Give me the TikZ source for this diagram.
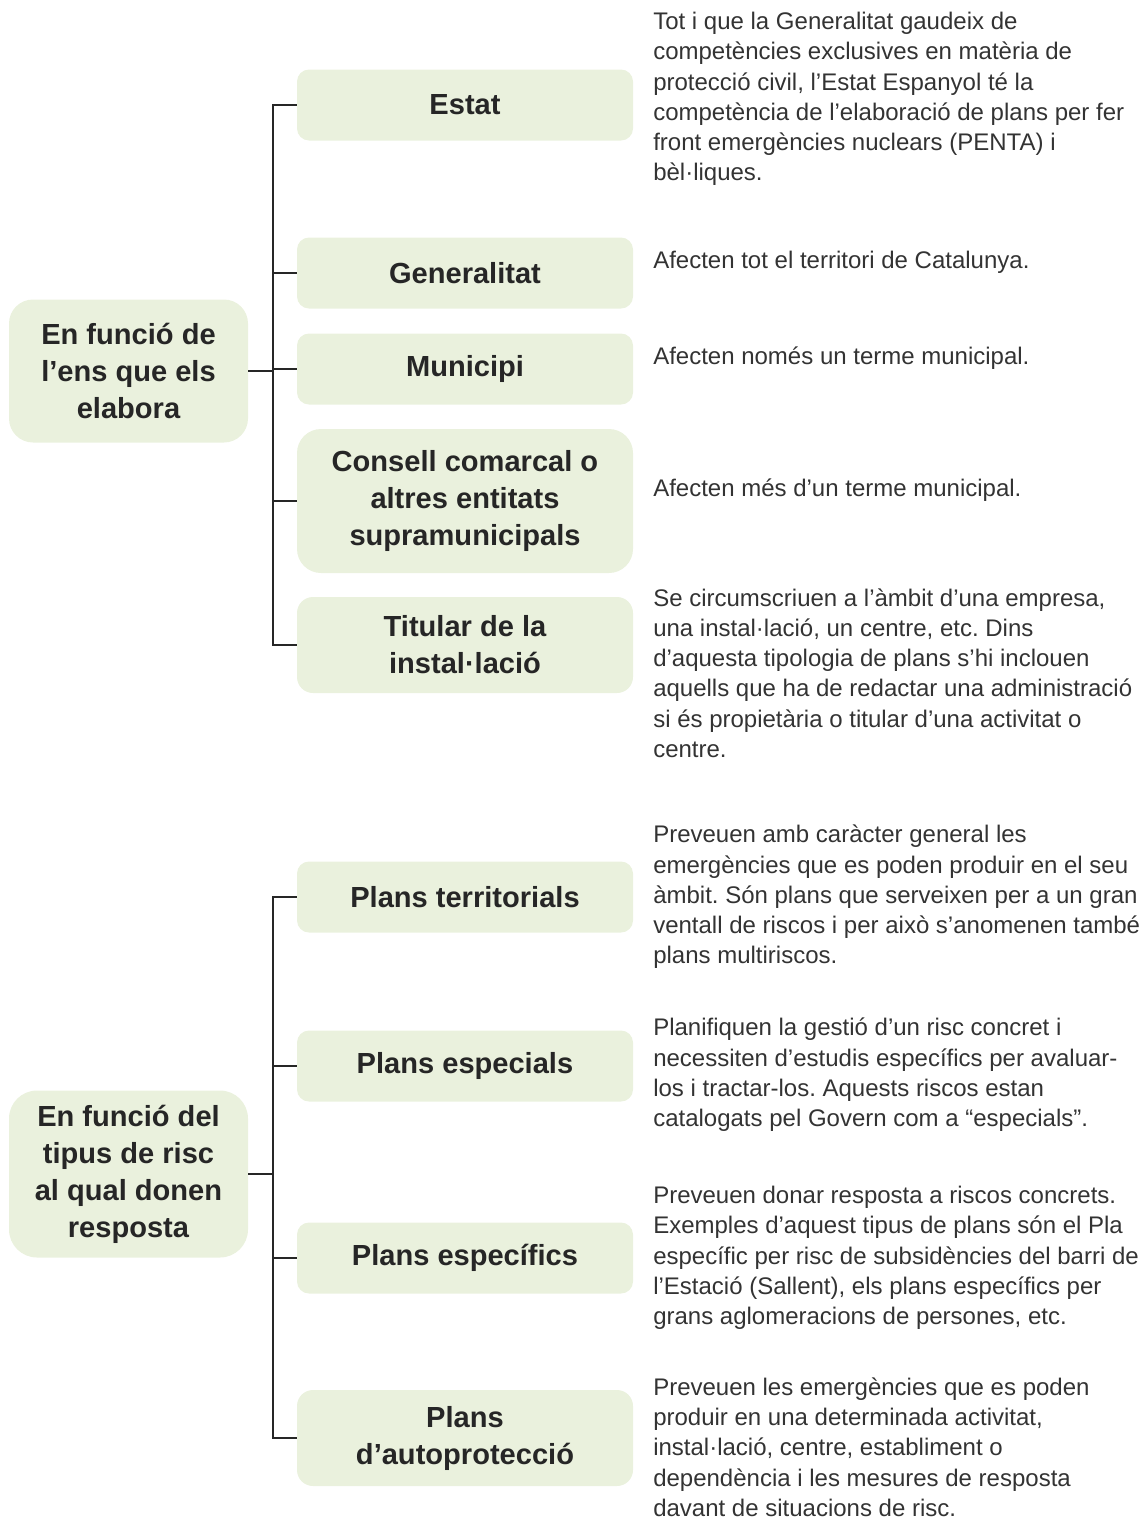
\documentclass[tikz,border=0pt]{standalone}
\usepackage{fontspec}
\setmainfont{Liberation Sans}
\frenchspacing
\usetikzlibrary{positioning}

\definecolor{boxgreen}{HTML}{EAF1DD}
\definecolor{ink}{HTML}{262626}
\definecolor{bodyink}{HTML}{333333}

\tikzset{
  group/.style={fill=boxgreen, text=ink, align=center, inner sep=0pt,
    minimum width=179.25pt, font=\bfseries\fontsize{21.8}{27.7}\selectfont},
  kind/.style={fill=boxgreen, text=ink, align=center, inner sep=0pt,
    minimum width=252pt, minimum height=53.25pt, rounded corners=9pt,
    font=\bfseries\fontsize{21.8}{27.7}\selectfont},
  note/.style={anchor=west, align=left, inner sep=0pt, text=bodyink,
    font=\fontsize{18}{22.7}\selectfont},
  link/.style={draw=ink, line width=1.5pt}
}

\begin{document}
\begin{tikzpicture}[x=0.75pt, y=-0.75pt]
    \useasboundingbox (0,0) rectangle (1143,1521);

    % qui elabora el pla
    \node[group, minimum height=107.25pt, rounded corners=18pt] (ens) at (128.5,371)
        {En funció de\\l’ens que els\\elabora};
    \node[kind] (estat) at (465,105) {Estat};
    \node[kind] (generalitat) at (465,273) {Generalitat};
    \node[kind] (municipi) at (465,369) {Municipi};
    \node[kind, minimum height=108pt, rounded corners=18pt] (consell) at (465,501)
        {Consell comarcal o\\altres entitats\\supramunicipals};
    \node[kind, minimum height=72pt, rounded corners=12pt] (titular) at (465,645)
        {Titular de la\\instal·lació};

    \foreach \k in {estat,generalitat,municipi,consell,titular}
        \draw[link] (ens.east) -- ++(25,0) |- (\k.west);

    \node[note] (estat-txt) at (653,99)
        {Tot i que la Generalitat gaudeix de\\competències exclusives en matèria de\\protecció civil, l’Estat Espanyol té la\\competència de l’elaboració de plans per fer\\front emergències nuclears (PENTA) i\\bèl·liques.};
    \node[note] (generalitat-txt) at (653,262) {Afecten tot el territori de Catalunya.};
    \node[note] (municipi-txt) at (653,358) {Afecten només un terme municipal.};
    \node[note] (consell-txt) at (653,490) {Afecten més d’un terme municipal.};
    \node[note] (titular-txt) at (653,673)
        {Se circumscriuen a l’àmbit d’una empresa,\\una instal·lació, un centre, etc. Dins\\d’aquesta tipologia de plans s’hi inclouen\\aquells que ha de redactar una administració\\si és propietària o titular d’una activitat o\\centre.};

    % tipus de risc
    \node[group, minimum height=125.25pt, rounded corners=21pt] (risc) at (128.5,1174)
        {En funció del\\tipus de risc\\al qual donen\\resposta};
    \node[kind] (territorials) at (465,897) {Plans territorials};
    \node[kind] (especials) at (465,1066) {Plans especials};
    \node[kind] (especifics) at (465,1258) {Plans específics};
    \node[kind, minimum height=72pt, rounded corners=12pt] (autoprot) at (465,1438)
        {Plans\\d’autoprotecció};

    \foreach \k in {territorials,especials,especifics,autoprot}
        \draw[link] (risc.east) -- ++(25,0) |- (\k.west);

    \node[note] (territorials-txt) at (653,897)
        {Preveuen amb caràcter general les\\emergències que es poden produir en el seu\\àmbit. Són plans que serveixen per a un gran\\ventall de riscos i per això s’anomenen també\\plans multiriscos.};
    \node[note] (especials-txt) at (653,1075)
        {Planifiquen la gestió d’un risc concret i\\necessiten d’estudis específics per avaluar-\\los i tractar-los. Aquests riscos estan\\catalogats pel Govern com a “especials”.};
    \node[note] (especifics-txt) at (653,1258)
        {Preveuen donar resposta a riscos concrets.\\Exemples d’aquest tipus de plans són el Pla\\específic per risc de subsidències del barri de\\l’Estació (Sallent), els plans específics per\\grans aglomeracions de persones, etc.};
    \node[note] (autoprot-txt) at (653,1447)
        {Preveuen les emergències que es poden\\produir en una determinada activitat,\\instal·lació, centre, establiment o\\dependència i les mesures de resposta\\davant de situacions de risc.};
\end{tikzpicture}
\end{document}
